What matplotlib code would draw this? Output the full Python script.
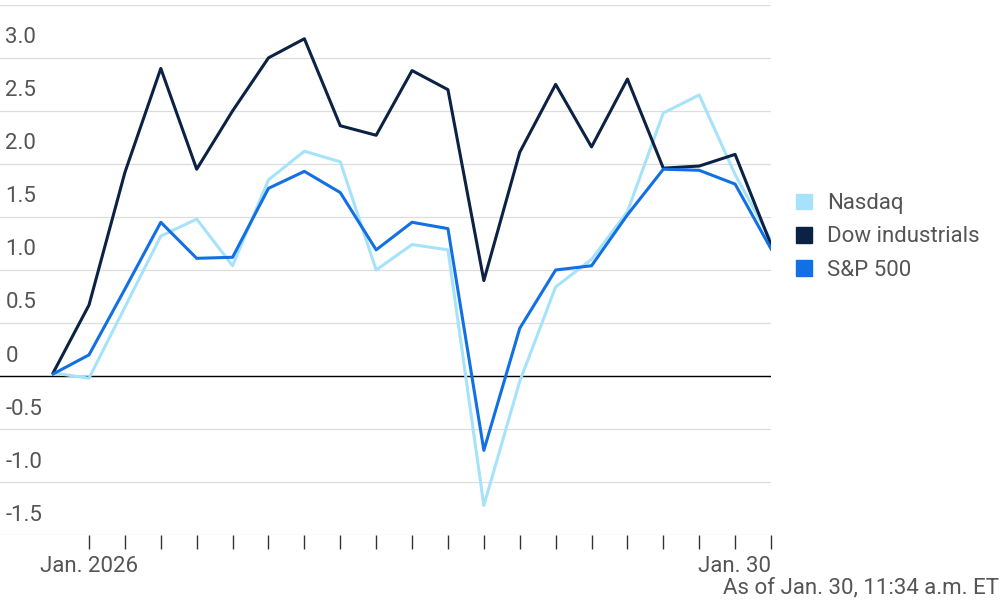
import matplotlib
matplotlib.use("Agg")
import matplotlib.pyplot as plt
from matplotlib.patches import Patch

dates = ["Dec 31","Jan 2","Jan 5","Jan 6","Jan 7","Jan 8","Jan 9","Jan 12","Jan 13","Jan 14","Jan 15",
         "Jan 16","Jan 20","Jan 21","Jan 22","Jan 23","Jan 26","Jan 27","Jan 28","Jan 29","Jan 30"]
dow = [0.03,0.67,1.92,2.9,1.95,2.5,3.0,3.18,2.36,2.27,2.88,2.7,0.9,2.11,2.75,2.16,2.8,1.96,1.98,2.09,1.24]
nasdaq = [0.03,-0.02,0.65,1.32,1.48,1.04,1.85,2.12,2.02,1.0,1.24,1.19,-1.22,-0.05,0.84,1.1,1.55,2.48,2.65,1.9,1.28]
sp500 = [0.02,0.2,0.82,1.45,1.11,1.12,1.77,1.93,1.73,1.19,1.45,1.39,-0.7,0.45,1.0,1.04,1.52,1.95,1.94,1.81,1.2]
yticks = [-1.5,-1.0,-0.5,0,0.5,1.0,1.5,2.0,2.5,3.0]
ylabels = ["-1.5","-1.0","-0.5","0","0.5","1.0","1.5","2.0","2.5","3.0"]

c_nas, c_dow, c_sp = "#a6e3fa", "#0b2244", "#1270e3"
fig = plt.figure(figsize=(10,6), dpi=100)
ax = fig.add_axes([0, 0.108, 0.771, 0.884])
x = list(range(len(dates)))
for yv in yticks + [3.5]:
    ax.axhline(yv, color="#dddddd", lw=0.9, zorder=0)
ax.axhline(0, color="black", lw=1, zorder=1)
ax.plot(x, nasdaq, color=c_nas, lw=2.2, zorder=2)
ax.plot(x, dow, color=c_dow, lw=2.2, zorder=3)
ax.plot(x, sp500, color=c_sp, lw=2.2, zorder=4)
ax.set_xlim(-1.48, 20)
ax.set_ylim(-1.5, 3.5)
for s in ax.spines.values():
    s.set_visible(False)
ax.set_yticks([])
ax.set_xticks(x[1:])
ax.set_xticklabels([])
ax.tick_params(axis="x", length=10, color="#333333", width=1)
for yv, lab in zip(yticks, ylabels):
    ax.text(0.007, yv + 0.09, lab, transform=ax.get_yaxis_transform(), fontsize=16,
            color="#555555", va="bottom", ha="left", family="Roboto")
ax.text(1, -1.7, "Jan. 2026", ha="center", va="top", fontsize=16, color="#555555", family="Roboto")
ax.text(20, -1.7, "Jan. 30", ha="right", va="top", fontsize=16, color="#555555", family="Roboto")
fig.text(0.999, 0.003, "As of Jan. 30, 11:34 a.m. ET", ha="right", va="bottom", fontsize=16,
         color="#555555", family="Roboto")
handles = [Patch(color=c_nas, label="Nasdaq"), Patch(color=c_dow, label="Dow industrials"),
           Patch(color=c_sp, label="S&P 500")]
leg = fig.legend(handles=handles, loc="center left", bbox_to_anchor=(0.776, 0.605), frameon=False,
                 handlelength=0.7, handleheight=0.7, handletextpad=0.7, labelspacing=0.55,
                 prop={"family": "Roboto", "size": 16})
for t in leg.get_texts():
    t.set_color("#555555")
fig.savefig("out.png")
